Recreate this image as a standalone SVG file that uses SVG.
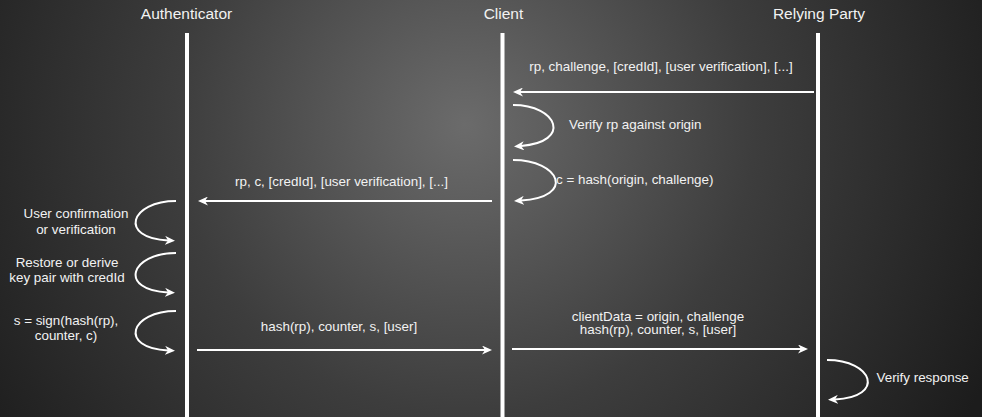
<svg xmlns="http://www.w3.org/2000/svg" width="982" height="417" viewBox="0 0 982 417">
<defs>
<radialGradient id="bg" gradientUnits="userSpaceOnUse" cx="465" cy="125" r="580">
<stop offset="0" stop-color="#6b6b6b"/>
<stop offset="0.5" stop-color="#3d3d3d"/>
<stop offset="1" stop-color="#1c1c1c"/>
</radialGradient>
<marker id="arr" viewBox="0 0 10 9" refX="3" refY="4.5" markerWidth="10" markerHeight="9" markerUnits="userSpaceOnUse" orient="auto">
<path d="M0,0 L10,4.5 L0,9 L3,4.5 Z" fill="#ffffff"/>
</marker>
</defs>
<style>
text{font-family:"Liberation Sans",Arial,sans-serif;fill:#f2f2f2;}
.hd{font-size:15.5px;text-anchor:middle;}
.lb{font-size:13.4px;}
.mid{text-anchor:middle;}
.life{stroke:#ffffff;stroke-width:4;fill:none;}
.msg{stroke:#ffffff;stroke-width:2;fill:none;marker-end:url(#arr);}
</style>
<rect x="0" y="0" width="982" height="417" fill="url(#bg)"/>
<g id="authenticator">
<text class="hd" x="186.5" y="19">Authenticator</text>
<line class="life" x1="187" y1="33" x2="187" y2="417"/>
</g>
<g id="client">
<text class="hd" x="503.5" y="19">Client</text>
<line class="life" x1="502.5" y1="33" x2="502.5" y2="417"/>
</g>
<g id="relying-party">
<text class="hd" x="819" y="19">Relying Party</text>
<line class="life" x1="818" y1="33" x2="818" y2="417"/>
</g>
<g id="connectors">
<path class="msg" d="M814,92 L520,92"/>
<path class="msg" d="M513,105 C558,105 572,142 521,146"/>
<path class="msg" d="M513,160 C560,160 576,197 521,200.5"/>
<path class="msg" d="M492,201 L205,201"/>
<path class="msg" d="M176,201 C130,201 118,238 168,240.5"/>
<path class="msg" d="M176,253 C130,253 118,290 168,292.5"/>
<path class="msg" d="M176,311 C130,311 118,348 168,350.5"/>
<path class="msg" d="M197,350 L485,350"/>
<path class="msg" d="M512,349 L801,349"/>
<path class="msg" d="M827,360 C873,360 886,397 835,399.5"/>
</g>
<g id="labels">
<text class="lb mid" x="661" y="70.5">rp, challenge, [credId], [user verification], [...]</text>
<text class="lb" x="569" y="129">Verify rp against origin</text>
<text class="lb" x="556" y="184">c = hash(origin, challenge)</text>
<text class="lb mid" x="341.5" y="186">rp, c, [credId], [user verification], [...]</text>
<text class="lb mid" x="76" y="218">User confirmation</text>
<text class="lb mid" x="76" y="233.5">or verification</text>
<text class="lb mid" x="67" y="266.5">Restore or derive</text>
<text class="lb mid" x="67" y="282">key pair with credId</text>
<text class="lb mid" x="66" y="324.5">s = sign(hash(rp),</text>
<text class="lb mid" x="66" y="340">counter, c)</text>
<text class="lb mid" x="339" y="331">hash(rp), counter, s, [user]</text>
<text class="lb mid" x="658" y="320.5">clientData = origin, challenge</text>
<text class="lb mid" x="658" y="334">hash(rp), counter, s, [user]</text>
<text class="lb" x="876.5" y="381.5">Verify response</text>
</g>
</svg>
